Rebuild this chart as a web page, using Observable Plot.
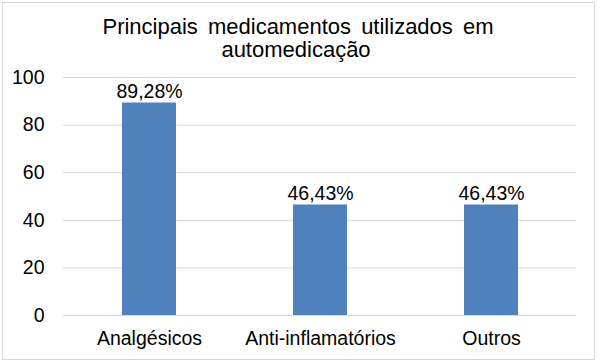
<!DOCTYPE html>
<html>
<head>
<meta charset="utf-8">
<script src="https://cdn.jsdelivr.net/npm/d3@7"></script>
<script src="https://cdn.jsdelivr.net/npm/@observablehq/plot@0.6"></script>
<style>
  html, body { margin: 0; padding: 0; background: #fff; }
  #wrap { position: relative; width: 600px; height: 361px; }
  #border { position: absolute; left: 2px; top: 2px; width: 591px; height: 356px; border: 1px solid #d9d9d9; pointer-events: none; }
  svg { display: block; }
</style>
</head>
<body>
<div id="wrap"><div id="border"></div></div>
<script>
const titleLines = ["Principais medicamentos utilizados em", "automedicação"];
const categories = ["Analgésicos", "Anti-inflamatórios", "Outros"];
const values = [89.28, 46.43, 46.43];
const valueLabels = ["89,28%", "46,43%", "46,43%"];
const yTicks = [0, 20, 40, 60, 80, 100];

const data = categories.map((c, i) => ({category: c, value: values[i], label: valueLabels[i]}));
const font = "'Liberation Sans', Arial, sans-serif";
const titleSize = 22;

const chart = Plot.plot({
  width: 600,
  height: 361,
  marginTop: 77,
  marginBottom: 46,
  marginLeft: 63,
  marginRight: 24,
  style: {fontFamily: font, fontSize: "19.5px", color: "#000", background: "transparent"},
  x: {domain: categories, paddingInner: 0.686, paddingOuter: 0.343, label: null},
  y: {domain: [0, 100], ticks: yTicks, label: null},
  marks: [
    Plot.ruleY(yTicks, {stroke: "#d9d9d9", strokeWidth: 1}),
    Plot.barY(data, {x: "category", y: "value", fill: "#4f81bd"}),
    Plot.text(data, {x: "category", y: "value", text: "label", dy: -11, lineAnchor: "middle", fontSize: 19.5, fill: "#000"}),
    Plot.axisY({ticks: yTicks, tickSize: 0, tickPadding: 19, fontSize: 19.5, label: null}),
    Plot.axisX({tickSize: 0, tickPadding: 16, fontSize: 19.5, label: null}),
    Plot.text([titleLines[0]], {frameAnchor: "top", dx: -22, dy: -(77 - 33 + 0.32 * titleSize), lineAnchor: "middle", fontSize: titleSize, fill: "#000"}),
    Plot.text([titleLines[1]], {frameAnchor: "top", dx: -24, dy: -(77 - 56 + 0.32 * titleSize), lineAnchor: "middle", fontSize: titleSize, fill: "#000"})
  ]
});
d3.select(chart).selectAll("text").filter(function() { return this.textContent === titleLines[0]; })
  .style("word-spacing", "4px");
document.getElementById("wrap").prepend(chart);
</script>
</body>
</html>
